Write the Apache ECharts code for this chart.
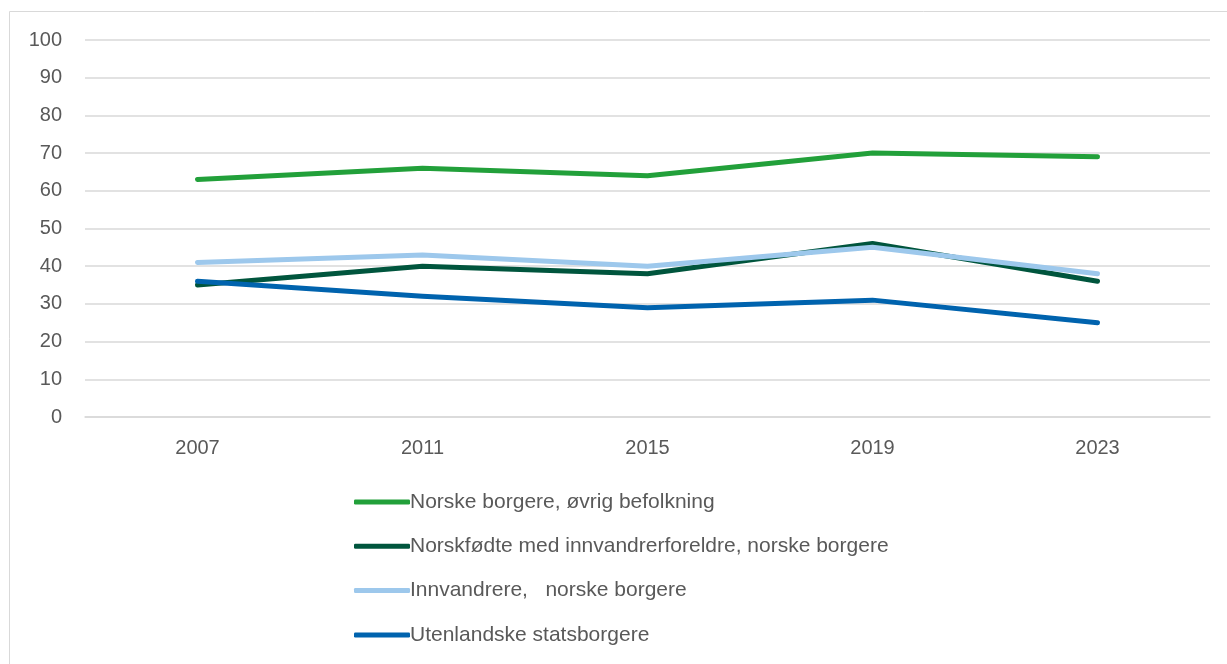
<!DOCTYPE html>
<html>
<head>
<meta charset="utf-8">
<script src="https://cdn.jsdelivr.net/npm/echarts@6/dist/echarts.min.js"></script>
<style>
  html, body { margin: 0; padding: 0; background: #fff; }
  #chart { width: 1227px; height: 664px; }
</style>
</head>
<body>
<div id="chart"></div>
<script>
// data
const years = ['2007', '2011', '2015', '2019', '2023'];
const norskeOvrig = [63, 66, 64, 70, 69];
const norskfodte = [35, 40, 38, 46, 36];
const innvandrere = [41, 43, 40, 45, 38];
const utenlandske = [36, 32, 29, 31, 25];
const seriesNames = [
  'Norske borgere, øvrig befolkning',
  'Norskfødte med innvandrerforeldre, norske borgere',
  'Innvandrere,   norske borgere',
  'Utenlandske statsborgere'
];
const colors = ['#22a03a', '#00553d', '#9dc8ec', '#0063ae'];

const font = '"Liberation Sans", Arial, sans-serif';
const chart = echarts.init(document.getElementById('chart'));

function line(name, data, color) {
  return {
    name: name,
    type: 'line',
    data: data,
    symbol: 'none',
    lineStyle: { color: color, width: 5, cap: 'round', join: 'round' },
    itemStyle: { color: color },
    emphasis: { disabled: true }
  };
}

chart.setOption({
  animation: false,
  color: colors,
  graphic: [{
    type: 'rect',
    shape: { x: 9.5, y: 11.5, width: 1240, height: 700 },
    style: { fill: 'none', stroke: '#d9d9d9', lineWidth: 1 },
    silent: true
  }],
  grid: { left: 85, right: 17, top: 40, bottom: 247, containLabel: false },
  xAxis: {
    type: 'category',
    data: years,
    boundaryGap: true,
    axisLine: { lineStyle: { color: '#d9d9d9', width: 1.5 } },
    axisTick: { show: false },
    axisLabel: { color: '#595959', fontSize: 20, fontFamily: font, margin: 21 }
  },
  yAxis: {
    type: 'value',
    min: 0,
    max: 100,
    interval: 10,
    axisLine: { show: false },
    axisTick: { show: false },
    splitLine: { lineStyle: { color: '#d9d9d9', width: 1.5 } },
    axisLabel: { color: '#595959', fontSize: 20, fontFamily: font, margin: 23 }
  },
  legend: {
    orient: 'vertical',
    left: 349,
    top: 486,
    itemWidth: 56,
    itemHeight: 5,
    itemGap: 22.3,
    icon: 'roundRect',
    textStyle: { color: '#595959', fontSize: 21, fontFamily: font, lineHeight: 22, padding: [0, 0, 0, -5] },
    data: seriesNames
  },
  series: [
    line(seriesNames[0], norskeOvrig, colors[0]),
    line(seriesNames[1], norskfodte, colors[1]),
    line(seriesNames[2], innvandrere, colors[2]),
    line(seriesNames[3], utenlandske, colors[3])
  ]
});
</script>
</body>
</html>
